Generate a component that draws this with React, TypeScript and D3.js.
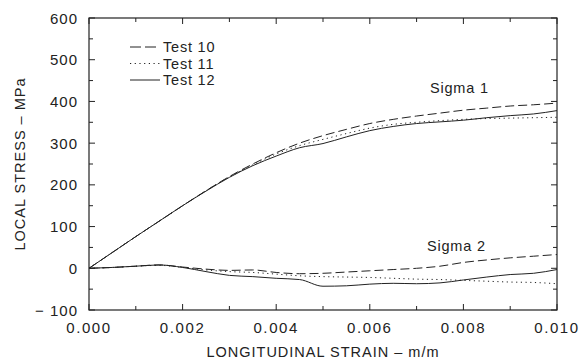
import React from "react";
import * as d3 from "d3";

const strain = [0, 0.0005, 0.001, 0.0015, 0.002, 0.0025, 0.003, 0.0035, 0.004, 0.0045, 0.005, 0.0055, 0.006, 0.0065, 0.007, 0.0075, 0.008, 0.0085, 0.009, 0.0095, 0.01];

const sigma1Test10 = [0, 38, 76, 113, 150, 186, 220, 250, 277, 300, 318, 333, 347, 357, 365, 372, 379, 384, 389, 392, 396];
const sigma1Test11 = [0, 38, 76, 113, 150, 186, 219, 248, 274, 294, 309, 323, 336, 345, 350, 354, 357, 359, 360, 361, 362];
const sigma1Test12 = [0, 38, 76, 113, 150, 185, 218, 246, 269, 289, 299, 315, 330, 340, 347, 351, 355, 361, 366, 370, 378];

const sigma2Test10 = [0, 2, 5, 8, 3, -2, -5, -4, -10, -13, -12, -9, -6, -3, 0, 5, 14, 20, 25, 29, 33];
const sigma2Test11 = [0, 2, 5, 7, 2, -4, -8, -10, -14, -18, -20, -21, -22, -24, -26, -27, -29, -31, -33, -34, -37];
const sigma2Test12 = [0, 2, 5, 8, 2, -8, -17, -20, -24, -27, -43, -42, -38, -36, -37, -35, -28, -21, -15, -12, -3];

const xTicks = [0, 0.002, 0.004, 0.006, 0.008, 0.01];
const yTicks = [-100, 0, 100, 200, 300, 400, 500, 600];

const tests = [
  { name: "Test 10", dash: "9,4", s1: sigma1Test10, s2: sigma2Test10 },
  { name: "Test 11", dash: "1.2,3.5", s1: sigma1Test11, s2: sigma2Test11 },
  { name: "Test 12", dash: "none", s1: sigma1Test12, s2: sigma2Test12 },
];

export default function App() {
  const width = 581;
  const height = 362;
  const left = 89, right = 557, top = 18, bottom = 310;

  const x = d3.scaleLinear().domain([0, 0.01]).range([left, right]);
  const y = d3.scaleLinear().domain([-100, 600]).range([bottom, top]);

  const line = (vals: number[]) =>
    d3.line<number>()
      .x((_, i) => x(strain[i]))
      .y(d => y(d))
      .curve(d3.curveMonotoneX)(vals) as string;

  const ink = "#222";
  const font = "'Liberation Sans', Arial, sans-serif";

  const xMinor = d3.range(0, 0.0105, 0.001);
  const yMinor = d3.range(-100, 601, 50);

  return (
    <svg width={width} height={height} style={{ position: "absolute", left: 0, top: 0, background: "#fff" }}>
      <rect x={left} y={top} width={right - left} height={bottom - top} fill="none" stroke={ink} strokeWidth={1.2} />
      {xMinor.map((t, i) => {
        const len = i % 2 === 0 ? 6 : 4;
        return (
          <g key={"xt" + i}>
            <line x1={x(t)} x2={x(t)} y1={bottom} y2={bottom - len} stroke={ink} />
            <line x1={x(t)} x2={x(t)} y1={top} y2={top + len} stroke={ink} />
          </g>
        );
      })}
      {yMinor.map((t, i) => {
        const len = i % 2 === 0 ? 6 : 4;
        return (
          <g key={"yt" + i}>
            <line x1={left} x2={left + len} y1={y(t)} y2={y(t)} stroke={ink} />
            <line x1={right} x2={right - len} y1={y(t)} y2={y(t)} stroke={ink} />
          </g>
        );
      })}
      {xTicks.map(t => (
        <text key={"xl" + t} x={x(t)} y={333} textAnchor="middle" fontFamily={font} fontSize={15} letterSpacing={1.6} fill={ink}>
          {t.toFixed(3)}
        </text>
      ))}
      {yTicks.map(t => (
        <text key={"yl" + t} x={78} y={y(t) + 5.5} textAnchor="end" fontFamily={font} fontSize={15} letterSpacing={1} fill={ink}>
          {t < 0 ? "\u2212 " + Math.abs(t) : t}
        </text>
      ))}
      <text x={323} y={357} textAnchor="middle" fontFamily={font} fontSize={14.5} letterSpacing={1} fill={ink}>
        LONGITUDINAL STRAIN – m/m
      </text>
      <text transform={`translate(25,164) rotate(-90)`} textAnchor="middle" fontFamily={font} fontSize={14.5} letterSpacing={1} fill={ink}>
        LOCAL STRESS – MPa
      </text>
      {tests.map(t => (
        <g key={t.name}>
          <path d={line(t.s1)} fill="none" stroke={ink} strokeWidth={1} strokeDasharray={t.dash} />
          <path d={line(t.s2)} fill="none" stroke={ink} strokeWidth={1} strokeDasharray={t.dash} />
        </g>
      ))}
      {tests.map((t, i) => (
        <g key={"lg" + t.name}>
          <line x1={130} x2={160} y1={47 + i * 16.5} y2={47 + i * 16.5} stroke={ink} strokeWidth={1} strokeDasharray={t.dash === "9,4" ? "11,4" : t.dash} />
          <text x={163} y={52 + i * 16.5} fontFamily={font} fontSize={14.5} letterSpacing={0.8} fill={ink}>{t.name}</text>
        </g>
      ))}
      <text x={430} y={93} fontFamily={font} fontSize={14.5} letterSpacing={0.8} fill={ink}>Sigma 1</text>
      <text x={427} y={251} fontFamily={font} fontSize={14.5} letterSpacing={0.8} fill={ink}>Sigma 2</text>
    </svg>
  );
}
